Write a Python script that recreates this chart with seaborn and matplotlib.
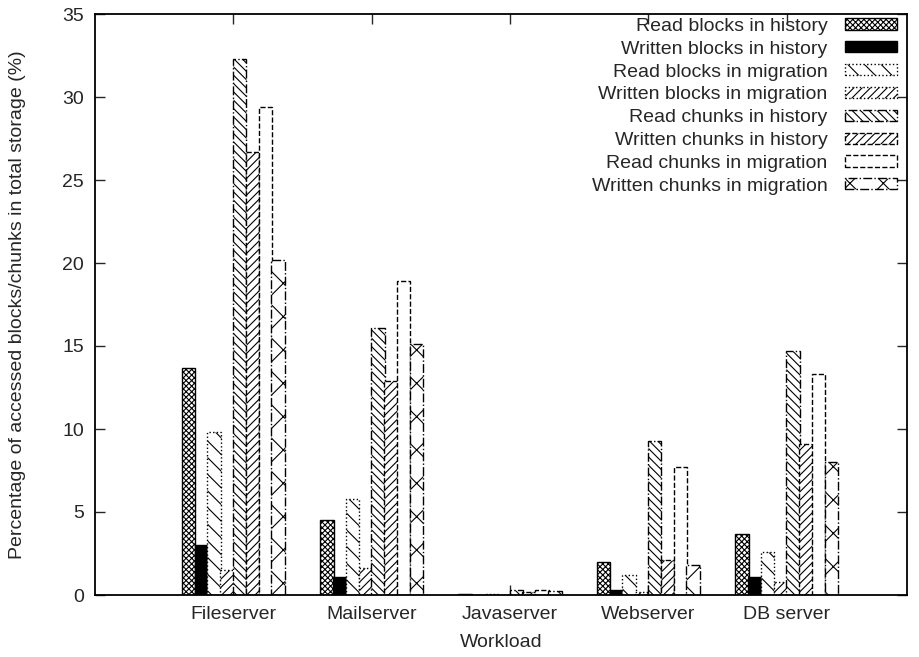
import matplotlib
matplotlib.use("Agg")
import matplotlib.pyplot as plt
import seaborn as sns
import pandas as pd

workloads = ["Fileserver", "Mailserver", "Javaserver", "Webserver", "DB server"]
series_names = [
    "Read blocks in history",
    "Written blocks in history",
    "Read blocks in migration",
    "Written blocks in migration",
    "Read chunks in history",
    "Written chunks in history",
    "Read chunks in migration",
    "Written chunks in migration",
]
read_blocks_history = [13.7, 4.5, 0.05, 2.0, 3.7]
written_blocks_history = [3.0, 1.1, 0.02, 0.3, 1.1]
read_blocks_migration = [9.8, 5.8, 0.05, 1.2, 2.6]
written_blocks_migration = [1.5, 1.6, 0.02, 0.2, 0.8]
read_chunks_history = [32.3, 16.1, 0.3, 9.3, 14.7]
written_chunks_history = [26.7, 12.9, 0.2, 2.1, 9.1]
read_chunks_migration = [29.4, 18.9, 0.3, 7.7, 13.3]
written_chunks_migration = [20.2, 15.1, 0.25, 1.8, 8.0]
y_ticks = [0, 5, 10, 15, 20, 25, 30, 35]

all_series = [read_blocks_history, written_blocks_history, read_blocks_migration,
              written_blocks_migration, read_chunks_history, written_chunks_history,
              read_chunks_migration, written_chunks_migration]

rows = []
for name, vals in zip(series_names, all_series):
    for w, v in zip(workloads, vals):
        rows.append({"Workload": w, "Series": name, "Value": v})
df = pd.DataFrame(rows)

sns.set_style("white")
plt.rcParams["font.family"] = ["Liberation Sans", "DejaVu Sans"]
plt.rcParams["hatch.linewidth"] = 0.8
plt.rcParams["hatch.color"] = "black"

fig = plt.figure(figsize=(9.19, 6.57), dpi=100)
ax = fig.add_axes([95 / 919, 1 - 595 / 657, (907 - 95) / 919, (595 - 14) / 657])

sns.barplot(data=df, x="Workload", y="Value", hue="Series", order=workloads,
            hue_order=series_names, palette=["white"] * 8, edgecolor="black",
            linewidth=1.0, width=0.74, dodge=True, ax=ax, legend=False,
            errorbar=None, saturation=1)

styles = [
    dict(hatch="xxxxxx", ls="-", fc="white"),
    dict(hatch=None, ls="-", fc="black"),
    dict(hatch="\\\\", ls=":", fc="white"),
    dict(hatch="////", ls=":", fc="white"),
    dict(hatch="\\\\\\\\", ls="-.", fc="white"),
    dict(hatch="////", ls="--", fc="white"),
    dict(hatch=None, ls="--", fc="white"),
    dict(hatch="x", ls="-.", fc="white"),
]
new_w = 0.0975
for cont, st in zip(ax.containers, styles):
    for p in cont.patches:
        cx = p.get_x() + p.get_width() / 2
        p.set_x(cx - new_w / 2)
        p.set_width(new_w)
        p.set_facecolor(st["fc"])
        p.set_edgecolor("black")
        p.set_linestyle(st["ls"])
        if st["hatch"]:
            p.set_hatch(st["hatch"])

ax.legend([c.patches[0] for c in ax.containers], series_names, loc="upper right",
          bbox_to_anchor=(1.0, 1.01),
          frameon=False, markerfirst=False, fontsize=14, handlelength=2.7,
          handleheight=0.5, labelspacing=0.3, borderaxespad=0.1, handletextpad=0.9)

ax.set_xlim(-1.0, 4.87)
ax.set_ylim(0, 35)
ax.set_yticks(y_ticks)
ax.set_xticks(range(len(workloads)))
ax.set_xticklabels(workloads)
ax.set_xlabel("Workload", fontsize=14, labelpad=8)
ax.set_ylabel("Percentage of accessed blocks/chunks in total storage (%)", fontsize=14,
              labelpad=26)
ax.tick_params(axis="both", direction="in", length=7, width=1, labelsize=14,
               top=True, right=True, bottom=True, left=True, pad=8)
for s in ax.spines.values():
    s.set_visible(True)
    s.set_linewidth(1.3)
    s.set_color("black")

fig.savefig("out.png", dpi=100)
